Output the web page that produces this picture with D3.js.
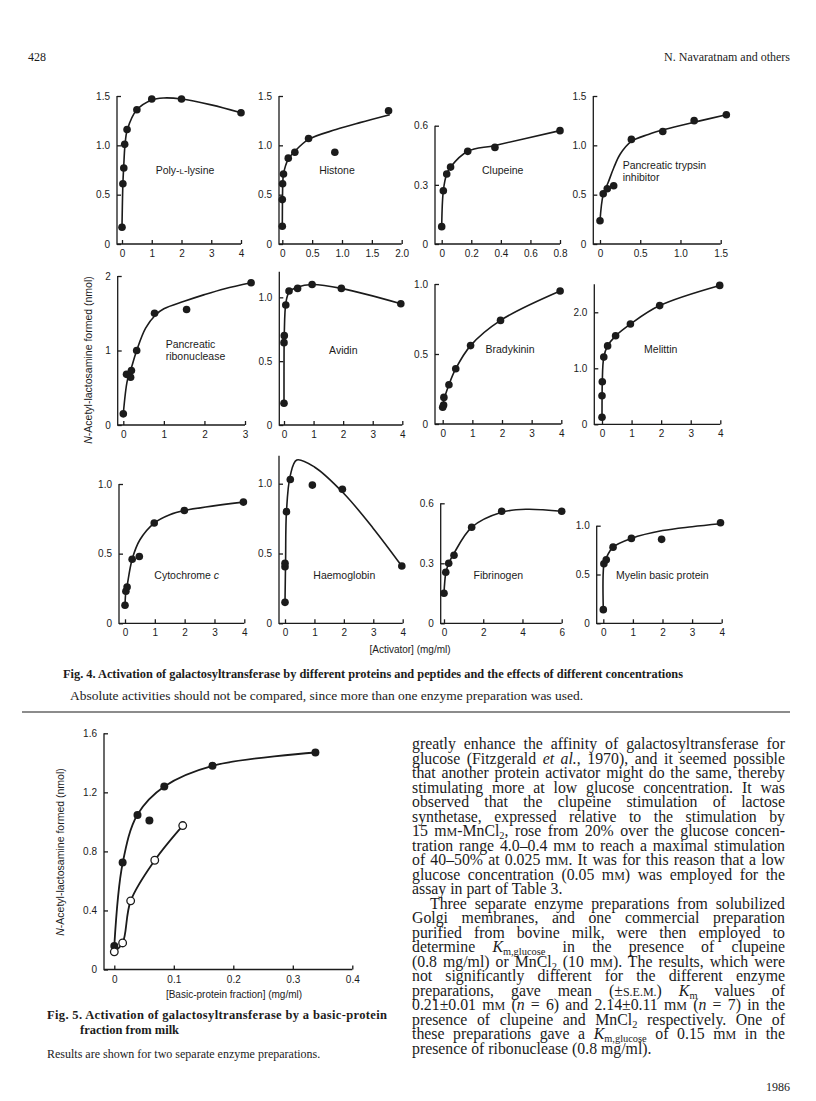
<!DOCTYPE html>
<html>
<head>
<meta charset="utf-8">
<script src="https://cdn.jsdelivr.net/npm/d3@7"></script>
<style>
  body { margin: 0; background: #fff; }
  svg text { fill: #1b1b1b; }
</style>
</head>
<body>
<svg id="page" width="816" height="1101"></svg>
<script>

// ---- Fig. 4 data: one panel per activator ----
const panelLabels = [
    ["Poly-{c:L}-lysine"], ["Histone"], ["Clupeine"], ["Pancreatic trypsin", "inhibitor"],
    ["Pancreatic", "ribonuclease"], ["Avidin"], ["Bradykinin"], ["Melittin"],
    ["Cytochrome {i:c}"], ["Haemoglobin"], ["Fibrinogen"], ["Myelin basic protein"]
]

const xDomains = [[0, 4], [0, 2], [0, 0.8], [0, 1.5], [0, 3], [0, 4], [0, 4], [0, 4], [0, 4], [0, 4], [0, 6], [0, 4]]
const xTicks = [
    [0, 1, 2, 3, 4], [0, 0.5, 1, 1.5, 2], [0, 0.2, 0.4, 0.6, 0.8], [0, 0.5, 1, 1.5],
    [0, 1, 2, 3], [0, 1, 2, 3, 4], [0, 1, 2, 3, 4], [0, 1, 2, 3, 4],
    [0, 1, 2, 3, 4], [0, 1, 2, 3, 4], [0, 2, 4, 6], [0, 1, 2, 3, 4]
]
const xTickLabels = [
    ["0", "1", "2", "3", "4"], ["0", "0.5", "1.0", "1.5", "2.0"], ["0", "0.2", "0.4", "0.6", "0.8"], ["0", "0.5", "1.0", "1.5"],
    ["0", "1", "2", "3"], ["0", "1", "2", "3", "4"], ["0", "1", "2", "3", "4"], ["0", "1", "2", "3", "4"],
    ["0", "1", "2", "3", "4"], ["0", "1", "2", "3", "4"], ["0", "2", "4", "6"], ["0", "1", "2", "3", "4"]
]
const yDomains = [[0, 1.5], [0, 1.5], [0, 0.6], [0, 1.5], [0, 2], [0, 1.2], [0, 1], [0, 2.5], [0, 1], [0, 1.2], [0, 0.6], [0, 1]]
const yTicks = [
    [0, 0.5, 1, 1.5], [0, 0.5, 1, 1.5], [0, 0.3, 0.6], [0, 0.5, 1, 1.5],
    [0, 1, 2], [0, 0.5, 1], [0, 0.5, 1], [0, 1, 2],
    [0, 0.5, 1], [0, 0.5, 1], [0, 0.3, 0.6], [0, 0.5, 1]
]
const yTickLabels = [
    ["0", "0.5", "1.0", "1.5"], ["0", "0.5", "1.0", "1.5"], ["0", "0.3", "0.6"], ["0", "0.5", "1.0", "1.5"],
    ["0", "1", "2"], ["0", "0.5", "1.0"], ["0", "0.5", "1.0"], ["0", "1.0", "2.0"],
    ["0", "0.5", "1.0"], ["0", "0.5", "1.0"], ["0", "0.3", "0.6"], ["0", "0.5", "1.0"]
]

// measured points [mg/ml, nmol] and the hand-drawn curve through them
const polyLysinePts = [[0, 0.17], [0.03, 0.61], [0.06, 0.77], [0.09, 1.01], [0.17, 1.16], [0.5, 1.36], [1, 1.47], [2, 1.47], [4, 1.33]]
const polyLysineFit = [[0, 0.17], [0.03, 0.61], [0.06, 0.8], [0.1, 1.0], [0.18, 1.16], [0.5, 1.36], [1, 1.46], [1.4, 1.48], [2, 1.47], [3, 1.41], [4, 1.33]]
const histonePts = [[0, 0.18], [0, 0.45], [0.005, 0.61], [0.02, 0.71], [0.1, 0.87], [0.21, 0.93], [0.44, 1.07], [0.88, 0.93], [1.78, 1.35]]
const histoneFit = [[0, 0.18], [0.003, 0.45], [0.008, 0.61], [0.02, 0.71], [0.1, 0.86], [0.21, 0.94], [0.44, 1.06], [0.9, 1.16], [1.3, 1.23], [1.8, 1.31]]
const clupeinePts = [[0, 0.088], [0.011, 0.27], [0.034, 0.355], [0.06, 0.39], [0.176, 0.47], [0.36, 0.49], [0.8, 0.575]]
const clupeineFit = [[0, 0.088], [0.011, 0.27], [0.034, 0.355], [0.06, 0.39], [0.176, 0.47], [0.36, 0.5], [0.8, 0.575]]
const trypsinInhPts = [[0, 0.235], [0.04, 0.51], [0.09, 0.56], [0.17, 0.59], [0.39, 1.06], [0.78, 1.14], [1.17, 1.25], [1.57, 1.31]]
const trypsinInhFit = [[0, 0.235], [0.04, 0.5], [0.1, 0.62], [0.17, 0.77], [0.25, 0.91], [0.39, 1.04], [0.6, 1.11], [0.8, 1.16], [1.2, 1.24], [1.57, 1.31]]
const ribonucleasePts = [[0, 0.15], [0.08, 0.68], [0.18, 0.64], [0.2, 0.73], [0.33, 1.0], [0.77, 1.5], [1.56, 1.55], [3.15, 1.91]]
const ribonucleaseFit = [[0, 0.15], [0.1, 0.6], [0.2, 0.77], [0.33, 1.0], [0.55, 1.3], [0.8, 1.48], [1.0, 1.56], [1.5, 1.66], [2.0, 1.75], [2.5, 1.83], [3.15, 1.91]]
const avidinPts = [[0, 0.17], [0, 0.645], [0.01, 0.7], [0.06, 0.94], [0.17, 1.05], [0.46, 1.07], [0.95, 1.1], [1.94, 1.07], [3.95, 0.95]]
const avidinFit = [[0, 0.17], [0.003, 0.645], [0.01, 0.72], [0.06, 0.95], [0.17, 1.04], [0.46, 1.08], [0.95, 1.1], [1.94, 1.07], [3.95, 0.95]]
const bradykininPts = [[0, 0.12], [0.03, 0.135], [0.04, 0.19], [0.21, 0.28], [0.44, 0.395], [0.94, 0.56], [1.95, 0.74], [3.96, 0.95]]
const bradykininFit = [[0, 0.12], [0.04, 0.17], [0.21, 0.28], [0.44, 0.395], [0.94, 0.56], [1.95, 0.74], [3.96, 0.95]]
const melittinPts = [[0, 0.125], [0, 0.51], [0.01, 0.76], [0.06, 1.2], [0.19, 1.4], [0.46, 1.58], [0.96, 1.79], [1.95, 2.12], [3.98, 2.48]]
const melittinFit = [[0, 0.125], [0.003, 0.51], [0.01, 0.76], [0.06, 1.2], [0.19, 1.4], [0.46, 1.58], [0.96, 1.79], [1.95, 2.12], [3.98, 2.48]]
const cytochromePts = [[0, 0.13], [0.03, 0.23], [0.07, 0.26], [0.24, 0.46], [0.48, 0.48], [0.98, 0.72], [1.99, 0.81], [3.97, 0.87]]
const cytochromeFit = [[0, 0.13], [0.03, 0.23], [0.07, 0.27], [0.24, 0.46], [0.5, 0.6], [0.98, 0.72], [1.5, 0.78], [1.99, 0.81], [3.97, 0.87]]
const haemoglobinPts = [[0, 0.15], [0, 0.405], [0, 0.43], [0.05, 0.8], [0.18, 1.03], [0.93, 0.99], [1.95, 0.96], [3.97, 0.41]]
const haemoglobinFit = [[0, 0.15], [0.02, 0.45], [0.05, 0.8], [0.18, 1.06], [0.4, 1.17], [1.0, 1.12], [2.0, 0.93], [3.0, 0.68], [3.97, 0.41]]
const fibrinogenPts = [[0, 0.15], [0.09, 0.255], [0.24, 0.3], [0.51, 0.34], [1.41, 0.48], [2.94, 0.56], [6, 0.56]]
const fibrinogenFit = [[0, 0.15], [0.09, 0.25], [0.24, 0.3], [0.51, 0.35], [1.41, 0.48], [2.94, 0.555], [4.2, 0.57], [6, 0.56]]
const myelinPts = [[0, 0.14], [0.02, 0.61], [0.1, 0.65], [0.33, 0.78], [0.95, 0.87], [1.97, 0.86], [3.96, 1.03]]
const myelinFit = [[0, 0.14], [0.02, 0.6], [0.1, 0.67], [0.33, 0.78], [0.95, 0.87], [2, 0.95], [3, 0.99], [3.96, 1.02]]

const panelPts = [polyLysinePts, histonePts, clupeinePts, trypsinInhPts, ribonucleasePts, avidinPts,
    bradykininPts, melittinPts, cytochromePts, haemoglobinPts, fibrinogenPts, myelinPts]
const panelFits = [polyLysineFit, histoneFit, clupeineFit, trypsinInhFit, ribonucleaseFit, avidinFit,
    bradykininFit, melittinFit, cytochromeFit, haemoglobinFit, fibrinogenFit, myelinFit]

// ---- Fig. 5 data: two enzyme preparations ----
const fig5Ticks = [0, 0.1, 0.2, 0.3, 0.4]
const fig5TickLabels = ["0", "0.1", "0.2", "0.3", "0.4"]
const fig5YTicks = [0, 0.4, 0.8, 1.2, 1.6]
const fig5YTickLabels = ["0", "0.4", "0.8", "1.2", "1.6"]
const prepAPts = [[0, 0.16], [0.014, 0.724], [0.039, 1.046], [0.059, 1.01], [0.084, 1.24], [0.165, 1.38], [0.338, 1.47]]
const prepAFit = [[0, 0.16], [0.014, 0.72], [0.039, 1.05], [0.084, 1.24], [0.165, 1.38], [0.338, 1.47]]
const prepBPts = [[0, 0.12], [0.014, 0.18], [0.0275, 0.465], [0.068, 0.74], [0.115, 0.975]]
const prepBFit = [[0, 0.12], [0.014, 0.18], [0.0275, 0.465], [0.068, 0.74], [0.115, 0.975]]

// ---- text of the page ----
const yAxisTitle = "{i:N}-Acetyl-lactosamine formed (nmol)"
const fig4XTitle = "[Activator] (mg/ml)"
const fig4Caption = "Fig. 4. Activation of galactosyltransferase by different proteins and peptides and the effects of different concentrations"
const fig4Note = "Absolute activities should not be compared, since more than one enzyme preparation was used."
const fig5XTitle = "[Basic-protein fraction] (mg/ml)"
const fig5Caption = ["Fig. 5. Activation of galactosyltransferase by a basic-protein", "fraction from milk"]
const fig5Note = "Results are shown for two separate enzyme preparations."
const bodyLines = [
    "greatly enhance the affinity of galactosyltransferase for",
    "glucose (Fitzgerald {i:et al.}, 1970), and it seemed possible",
    "that another protein activator might do the same, thereby",
    "stimulating more at low glucose concentration. It was",
    "observed that the clupeine stimulation of lactose",
    "synthetase, expressed relative to the stimulation by",
    "15 m{c:M}-MnCl{s:2}, rose from 20% over the glucose concen-",
    "tration range 4.0\u20130.4 m{c:M} to reach a maximal stimulation",
    "of 40\u201350% at 0.025 m{c:M}. It was for this reason that a low",
    "glucose concentration (0.05 m{c:M}) was employed for the",
    "assay in part of Table 3.",
    "Three separate enzyme preparations from solubilized",
    "Golgi membranes, and one commercial preparation",
    "purified from bovine milk, were then employed to",
    "determine {i:K}{s:m,glucose} in the presence of clupeine",
    "(0.8 mg/ml) or MnCl{s:2} (10 m{c:M}). The results, which were",
    "not significantly different for the different enzyme",
    "preparations, gave mean (\u00b1{c:S.E.M.}) {i:K}{s:m} values of",
    "0.21\u00b10.01 m{c:M} ({i:n} = 6) and 2.14\u00b10.11 m{c:M} ({i:n} = 7) in the",
    "presence of clupeine and MnCl{s:2} respectively. One of",
    "these preparations gave a {i:K}{s:m,glucose} of 0.15 m{c:M} in the",
    "presence of ribonuclease (0.8 mg/ml)."
]
const lastLines = [10, 21]    // paragraph ends, not justified
const indentLines = [11]

// ---- layout (pixels on the page) ----
// ax: y-axis x, x0/x1: first/last x tick, yTop/yBot: top/bottom of y scale, label: [x, y, anchor]
const frames = [
    { ax: 117, x0: 122, x1: 241, yTop: 96, yBot: 244, label: [185, 174, "middle"] },
    { ax: 279, x0: 282.3, x1: 401.7, yTop: 96, yBot: 244, label: [337, 174, "middle"] },
    { ax: 435, x0: 441.7, x1: 560, yTop: 125.7, yBot: 244, label: [502.7, 174, "middle"] },
    { ax: 593.3, x0: 600, x1: 720.7, yTop: 96, yBot: 244, label: [622.7, 169, "start"] },
    { ax: 117.7, x0: 123.3, x1: 245, yTop: 276, yBot: 425, label: [165.7, 348, "start"] },
    { ax: 279.3, x0: 284, x1: 402.3, yTop: 271.8, yBot: 425, label: [343.3, 354, "middle"] },
    { ax: 435, x0: 442.7, x1: 561.3, yTop: 284, yBot: 424, label: [510, 353, "middle"] },
    { ax: 594.3, x0: 602, x1: 720.3, yTop: 284.3, yBot: 424.3, label: [660.7, 353, "middle"] },
    { ax: 119, x0: 125, x1: 244.3, yTop: 484, yBot: 623.3, label: [186.7, 579, "middle"] },
    { ax: 279, x0: 285, x1: 402.7, yTop: 455.8, yBot: 623.3, label: [344.3, 579, "middle"] },
    { ax: 440.7, x0: 444, x1: 561.7, yTop: 503.3, yBot: 623.3, label: [498.3, 579, "middle"] },
    { ax: 596.7, x0: 603.3, x1: 721.7, yTop: 525.7, yBot: 623.3, label: [662.3, 579, "middle"] }
]
const fig5Frame = { ax: 104, x0: 114.3, x1: 352.3, yTop: 733.3, yBot: 969.5 }

const sans = "'Liberation Sans', Arial, sans-serif"
const serif = "'Liberation Serif', 'Times New Roman', serif"
const ink = "#1b1b1b"

const svg = d3.select("#page")
svg.append("rect").attr("width", 816).attr("height", 1101).attr("fill", "#fff")

// write a string with {i:..} italic, {s:..} subscript, {c:..} small capital runs
function rich(text, str, size) {
    const re = /\{(\w):([^}]*)\}/g
    let last = 0, m, pend = 0
    const put = (s, kind) => {
        if (!s) return
        const t = text.append("tspan").text(s)
        let dy = -pend
        pend = 0
        if (kind === "i") t.attr("font-style", "italic")
        if (kind === "c") t.attr("font-size", size * 0.76)
        if (kind === "s") { t.attr("font-size", size * 0.66); dy += size * 0.2; pend = size * 0.2 }
        if (dy) t.attr("dy", dy)
    }
    while ((m = re.exec(str))) {
        put(str.slice(last, m.index))
        put(m[2], m[1])
        last = re.lastIndex
    }
    put(str.slice(last))
}

function axes(g, x, y, f, xt, xl, yt, yl) {
    g.append("path")
        .attr("d", `M${f.ax},${y(y.domain()[1])}V${f.yBot}H${f.x1}`)
        .attr("fill", "none").attr("stroke", ink).attr("stroke-width", 1.3)

    g.append("g")
        .attr("transform", "translate(0," + f.yBot + ")")
        .call(d3.axisBottom(x).tickValues(xt).tickFormat((d, i) => xl[i])
            .tickSizeInner(-4).tickSizeOuter(0).tickPadding(6))
        .call(a => a.select(".domain").remove())
        .call(a => a.selectAll("line").attr("stroke", ink).attr("stroke-width", 1.3))
        .call(a => a.selectAll("text").attr("font-family", sans).attr("font-size", 10).attr("fill", ink))

    g.append("g")
        .attr("transform", "translate(" + f.ax + ",0)")
        .call(d3.axisLeft(y).tickValues(yt).tickFormat((d, i) => yl[i])
            .tickSizeInner(-4).tickSizeOuter(0).tickPadding(7))
        .call(a => a.select(".domain").remove())
        .call(a => a.selectAll("line").attr("stroke", ink).attr("stroke-width", 1.3))
        .call(a => a.selectAll("text").attr("font-family", sans).attr("font-size", 10).attr("fill", ink))
}

const curve = d3.curveCatmullRom.alpha(0.5)

// ---- Fig. 4 panels ----
frames.forEach((f, i) => {
    const g = svg.append("g").attr("class", "panel")
    const x = d3.scaleLinear().domain(xDomains[i]).range([f.x0, f.x1])
    const y = d3.scaleLinear().domain(yDomains[i]).range([f.yBot, f.yTop])
    axes(g, x, y, f, xTicks[i], xTickLabels[i], yTicks[i], yTickLabels[i])

    const line = d3.line().x(d => x(d[0])).y(d => y(d[1])).curve(curve)
    g.append("path")
        .attr("d", line(panelFits[i]))
        .attr("fill", "none").attr("stroke", ink).attr("stroke-width", 1.6)

    g.selectAll("circle")
        .data(panelPts[i])
        .enter()
        .append("circle")
        .attr("cx", d => x(d[0]))
        .attr("cy", d => y(d[1]))
        .attr("r", 3.8)
        .attr("fill", ink)

    panelLabels[i].forEach((s, k) => {
        const t = g.append("text")
            .attr("x", f.label[0]).attr("y", f.label[1] + k * 11.7)
            .attr("text-anchor", f.label[2])
            .attr("font-family", sans).attr("font-size", 10.5)
        rich(t, s, 10.5)
    })
})

function vertTitle(cx, cy) {
    const t = svg.append("text")
        .attr("transform", `translate(${cx},${cy}) rotate(-90)`)
        .attr("text-anchor", "middle")
        .attr("font-family", sans).attr("font-size", 10.5)
    rich(t, yAxisTitle, 10.5)
}
vertTitle(92, 360)

svg.append("text")
    .attr("x", 410).attr("y", 653)
    .attr("text-anchor", "middle")
    .attr("font-family", sans).attr("font-size", 10)
    .text(fig4XTitle)

// ---- Fig. 5 ----
{
    const f = fig5Frame
    const g = svg.append("g").attr("class", "fig5")
    const x = d3.scaleLinear().domain([0, 0.4]).range([f.x0, f.x1])
    const y = d3.scaleLinear().domain([0, 1.6]).range([f.yBot, f.yTop])
    axes(g, x, y, f, fig5Ticks, fig5TickLabels, fig5YTicks, fig5YTickLabels)
    const line = d3.line().x(d => x(d[0])).y(d => y(d[1])).curve(curve)
    g.append("path").attr("d", line(prepAFit))
        .attr("fill", "none").attr("stroke", ink).attr("stroke-width", 1.8)
    g.append("path").attr("d", line(prepBFit))
        .attr("fill", "none").attr("stroke", ink).attr("stroke-width", 1.8)
    g.selectAll("circle.a").data(prepAPts).enter().append("circle")
        .attr("cx", d => x(d[0])).attr("cy", d => y(d[1])).attr("r", 4)
        .attr("fill", ink)
    g.selectAll("circle.b").data(prepBPts).enter().append("circle")
        .attr("cx", d => x(d[0])).attr("cy", d => y(d[1])).attr("r", 3.8)
        .attr("fill", "#fff").attr("stroke", ink).attr("stroke-width", 1.3)
}
vertTitle(64, 852)
svg.append("text")
    .attr("x", 234).attr("y", 998)
    .attr("text-anchor", "middle")
    .attr("font-family", sans).attr("font-size", 10)
    .text(fig5XTitle)

// ---- captions ----
svg.append("text")
    .attr("x", 63).attr("y", 678)
    .attr("font-family", serif).attr("font-size", 12).attr("font-weight", "bold")
    .attr("textLength", 620).attr("lengthAdjust", "spacingAndGlyphs")
    .text(fig4Caption)
svg.append("text")
    .attr("x", 70).attr("y", 700)
    .attr("font-family", serif).attr("font-size", 12)
    .attr("textLength", 513).attr("lengthAdjust", "spacingAndGlyphs")
    .text(fig4Note)

svg.append("line")
    .attr("x1", 22).attr("x2", 790).attr("y1", 712).attr("y2", 712)
    .attr("stroke", ink).attr("stroke-width", 1.2)

svg.append("text")
    .attr("x", 47).attr("y", 1019)
    .attr("font-family", serif).attr("font-size", 12.5).attr("font-weight", "bold")
    .attr("textLength", 340).attr("lengthAdjust", "spacing")
    .text(fig5Caption[0])
svg.append("text")
    .attr("x", 80).attr("y", 1034)
    .attr("font-family", serif).attr("font-size", 12.5).attr("font-weight", "bold")
    .text(fig5Caption[1])
svg.append("text")
    .attr("x", 47).attr("y", 1058)
    .attr("font-family", serif).attr("font-size", 12)
    .text(fig5Note)

// ---- body text, justified column ----
const colX = 412, colW = 373, lead = 14.5, firstBase = 749, bodySize = 15.8
bodyLines.forEach((s, i) => {
    const indent = indentLines.includes(i) ? 18 : 0
    const t = svg.append("text")
        .attr("x", colX + indent).attr("y", firstBase + i * lead)
        .attr("font-family", serif).attr("font-size", bodySize)
        .style("white-space", "pre")
    rich(t, s, bodySize)
    if (!lastLines.includes(i)) {
        const plain = s.replace(/\{\w:([^}]*)\}/g, "$1")
        const spaces = (plain.match(/ /g) || []).length
        const natural = t.node().getComputedTextLength()
        if (spaces) t.style("word-spacing", ((colW - indent - natural) / spaces) + "px")
    }
})

// ---- running head and folio ----
svg.append("text").attr("x", 28).attr("y", 61)
    .attr("font-family", serif).attr("font-size", 12).text("428")
svg.append("text").attr("x", 790).attr("y", 61).attr("text-anchor", "end")
    .attr("font-family", serif).attr("font-size", 12).text("N. Navaratnam and others")
svg.append("text").attr("x", 790).attr("y", 1091).attr("text-anchor", "end")
    .attr("font-family", serif).attr("font-size", 12).text("1986")

</script>
</body>
</html>
